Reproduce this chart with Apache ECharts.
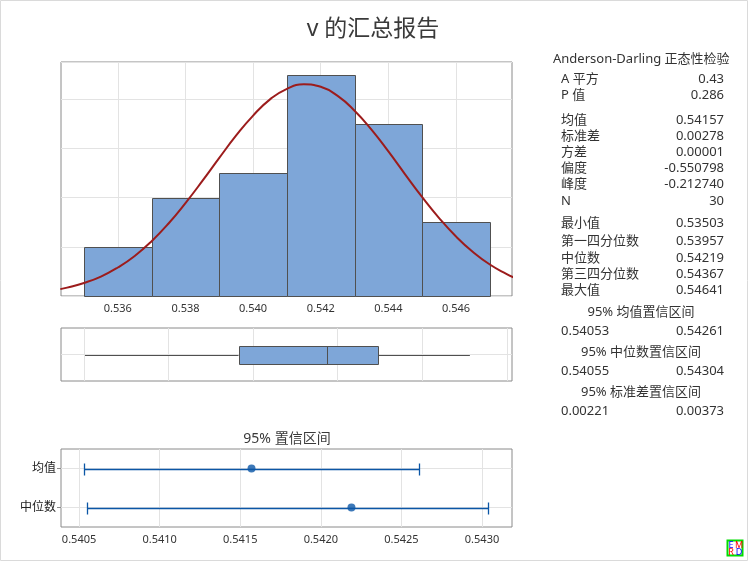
<!DOCTYPE html>
<html>
<head>
<meta charset="utf-8">
<script src="https://cdn.jsdelivr.net/npm/echarts@6/dist/echarts.min.js"></script>
<style>
  html, body { margin: 0; padding: 0; background: #fff; }
  #chart { width: 748px; height: 561px; }
</style>
</head>
<body>
<div id="chart"></div>
<script>
// histogram bins (start of each bin, width 0.002) and counts
const binStarts = [0.535, 0.537, 0.539, 0.541, 0.543, 0.545];
const binWidth = 0.002;
const binCounts = [2, 4, 5, 9, 7, 3];

// fitted normal curve
const curveX = [0.5343, 0.5345, 0.5350, 0.5355, 0.5360, 0.5365, 0.5370, 0.5375, 0.5380, 0.5385,
  0.5390, 0.5395, 0.5400, 0.5405, 0.5410, 0.5415, 0.5420, 0.5425, 0.5430, 0.5435,
  0.5440, 0.5445, 0.5450, 0.5455, 0.5460, 0.5465, 0.5470, 0.5475, 0.5477];
const curveY = [0.28, 0.34, 0.53, 0.79, 1.16, 1.63, 2.23, 2.95, 3.78, 4.68,
  5.62, 6.53, 7.34, 8.00, 8.43, 8.61, 8.51, 8.14, 7.54, 6.77,
  5.88, 4.94, 4.02, 3.17, 2.42, 1.79, 1.28, 0.89, 0.76];

// box plot: min, Q1, median, Q3, max
const boxStats = [0.53503, 0.53957, 0.54219, 0.54367, 0.54641];

// 95% confidence intervals
const ciNames = ['均值', '中位数'];
const ciCenters = [0.54157, 0.54219];
const ciLow = [0.54053, 0.54055];
const ciHigh = [0.54261, 0.54304];

// tick labels
const histTicks = [0.536, 0.538, 0.540, 0.542, 0.544, 0.546];
const boxTicks = [0.535, 0.5375, 0.540, 0.5425, 0.545, 0.5475];
const ciTicks = [0.5405, 0.5410, 0.5415, 0.5420, 0.5425, 0.5430];

// summary table
const adTitle = 'Anderson-Darling 正态性检验';
const statLabels = ['A 平方', 'P 值', '均值', '标准差', '方差', '偏度', '峰度', 'N',
  '最小值', '第一四分位数', '中位数', '第三四分位数', '最大值'];
const statValues = ['0.43', '0.286', '0.54157', '0.00278', '0.00001', '-0.550798', '-0.212740', '30',
  '0.53503', '0.53957', '0.54219', '0.54367', '0.54641'];
const statRowY = [79, 95, 120, 136, 152, 168, 184, 201, 223, 241, 258, 274, 290];
const ciTableTitles = ['95% 均值置信区间', '95% 中位数置信区间', '95% 标准差置信区间'];
const ciTableValues = [['0.54053', '0.54261'], ['0.54055', '0.54304'], ['0.00221', '0.00373']];

const FONT = "'Noto Sans', 'Noto Sans CJK SC', sans-serif";
const TEXT = '#333333';
const FRAME = '#8a8a8a';
const GRIDLINE = '#e3e3e3';
const X_MIN = 0.53432, X_MAX = 0.547655;

const chart = echarts.init(document.getElementById('chart'));

function txt(text, x, y, size, align, color) {
  return {
    type: 'text', x: x, y: y, silent: true,
    style: {
      text: text, fontSize: size, fontFamily: FONT, fill: color || TEXT,
      align: align || 'left', textAlign: align || 'left',
      verticalAlign: 'middle', textVerticalAlign: 'middle'
    }
  };
}

const graphics = [
  { type: 'rect', shape: { x: 0.5, y: 0.5, width: 747, height: 560 }, style: { fill: 'none', stroke: '#dadada', lineWidth: 1 }, silent: true },
  txt('v 的汇总报告', 373, 29, 23, 'center', '#3a3a3a'),
  txt('95% 置信区间', 287, 439, 14, 'center', '#3a3a3a'),
  txt(adTitle, 553, 59, 13, 'left')
];
statLabels.forEach((l, i) => {
  graphics.push(txt(l, 561, statRowY[i], 13, 'left'));
  graphics.push(txt(statValues[i], 724, statRowY[i], 13, 'right'));
});
const ciTitleY = [312, 352, 392];
ciTableTitles.forEach((t, i) => {
  graphics.push(txt(t, 641, ciTitleY[i], 13, 'center'));
  graphics.push(txt(ciTableValues[i][0], 561, ciTitleY[i] + 19, 13, 'left'));
  graphics.push(txt(ciTableValues[i][1], 724, ciTitleY[i] + 19, 13, 'right'));
});
// small logo in bottom right corner
graphics.push({ type: 'rect', shape: { x: 727.5, y: 540.5, width: 15, height: 15 }, style: { fill: '#fff', stroke: '#00dd00', lineWidth: 2 }, silent: true });
graphics.push(txt('E', 731, 545, 9, 'center', '#0000ff'));
graphics.push(txt('M', 739, 545, 9, 'center', '#ff0000'));
graphics.push(txt('R', 731, 552, 9, 'center', '#ff0000'));
graphics.push(txt('D', 739, 552, 9, 'center', '#0000ff'));

const gridBase = { show: true, borderColor: FRAME, borderWidth: 1, backgroundColor: '#fff', containLabel: false };

const option = {
  animation: false,
  textStyle: { fontFamily: FONT },
  grid: [
    Object.assign({ left: 61, top: 62, width: 451, height: 234 }, gridBase),
    Object.assign({ left: 61, top: 328, width: 451, height: 53 }, gridBase),
    Object.assign({ left: 61, top: 449, width: 451, height: 78 }, gridBase)
  ],
  xAxis: [
    {
      gridIndex: 0, type: 'value', min: X_MIN, max: X_MAX,
      axisLine: { show: false },
      axisTick: { show: false, customValues: histTicks },
      axisLabel: { customValues: histTicks, color: TEXT, fontSize: 11, margin: 7, formatter: v => v.toFixed(3) },
      splitLine: { show: true, lineStyle: { color: GRIDLINE, width: 1 } }
    },
    {
      gridIndex: 1, type: 'value', min: X_MIN, max: X_MAX,
      axisLine: { show: false },
      axisTick: { show: false, customValues: boxTicks },
      axisLabel: { show: false },
      splitLine: { show: true, lineStyle: { color: GRIDLINE, width: 1 } }
    },
    {
      gridIndex: 2, type: 'value', min: 0.540388, max: 0.543186,
      axisLine: { show: false },
      axisTick: { show: false, customValues: ciTicks },
      axisLabel: { customValues: ciTicks, color: TEXT, fontSize: 11, margin: 7, formatter: v => v.toFixed(4) },
      splitLine: { show: true, lineStyle: { color: GRIDLINE, width: 1 } }
    }
  ],
  yAxis: [
    {
      gridIndex: 0, type: 'value', min: 0, max: 9.52, interval: 2,
      axisLine: { show: false }, axisTick: { show: false }, axisLabel: { show: false },
      splitLine: { show: true, lineStyle: { color: GRIDLINE, width: 1 } }
    },
    {
      gridIndex: 1, type: 'value', min: 0, max: 2,
      axisLine: { show: false },
      axisTick: { show: false, customValues: [1] },
      axisLabel: { show: false },
      splitLine: { show: true, lineStyle: { color: GRIDLINE, width: 1 } }
    },
    {
      gridIndex: 2, type: 'value', min: 0, max: 2,
      axisLine: { show: false },
      axisTick: { show: true, length: 4, customValues: [0.5, 1.5], lineStyle: { color: FRAME } },
      axisLabel: {
        customValues: [0.5, 1.5], color: '#222', fontSize: 12, margin: 5,
        formatter: v => (v > 1 ? ciNames[0] : ciNames[1])
      },
      splitLine: { show: true, lineStyle: { color: GRIDLINE, width: 1 } }
    }
  ],
  graphic: graphics,
  series: [
    {
      type: 'custom', xAxisIndex: 0, yAxisIndex: 0,
      encode: { x: [0, 1], y: 2 },
      data: binStarts.map((s, i) => [s, s + binWidth, binCounts[i]]),
      renderItem: (params, api) => {
        const p0 = api.coord([api.value(0), api.value(2)]);
        const p1 = api.coord([api.value(1), 0]);
        return {
          type: 'rect',
          shape: { x: Math.round(p0[0]) + 0.5, y: Math.round(p0[1]) + 0.5, width: Math.round(p1[0]) - Math.round(p0[0]), height: Math.round(p1[1]) - Math.round(p0[1]) },
          style: { fill: '#7ea6d8', stroke: '#505050', lineWidth: 1 }
        };
      }
    },
    {
      type: 'line', xAxisIndex: 0, yAxisIndex: 0,
      data: curveX.map((x, i) => [x, curveY[i]]),
      smooth: true, showSymbol: false, symbol: 'none',
      lineStyle: { color: '#9c1c1c', width: 2 },
      clip: true, z: 5
    },
    {
      type: 'custom', xAxisIndex: 1, yAxisIndex: 1,
      encode: { x: [0, 1, 2, 3, 4], y: 5 },
      data: [boxStats.concat([1])],
      renderItem: (params, api) => {
        const y = api.value(5);
        const c = [0, 1, 2, 3, 4].map(k => api.coord([api.value(k), y]));
        const cy = Math.round(c[0][1]) + 0.5;
        const h = 9;
        const line = (x1, x2, y1, y2) => ({
          type: 'line', shape: { x1: x1, y1: y1, x2: x2, y2: y2 },
          style: { stroke: '#505050', lineWidth: 1 }
        });
        return {
          type: 'group',
          children: [
            line(c[0][0], c[1][0], cy, cy),
            line(c[3][0], c[4][0], cy, cy),
            {
              type: 'rect',
              shape: { x: Math.round(c[1][0]) + 0.5, y: cy - h, width: Math.round(c[3][0] - c[1][0]), height: 2 * h },
              style: { fill: '#7ea6d8', stroke: '#505050', lineWidth: 1 }
            },
            line(Math.round(c[2][0]) + 0.5, Math.round(c[2][0]) + 0.5, cy - h, cy + h)
          ]
        };
      }
    },
    {
      type: 'custom', xAxisIndex: 2, yAxisIndex: 2,
      encode: { x: [0, 1], y: 2 },
      data: ciNames.map((n, i) => [ciLow[i], ciHigh[i], i === 0 ? 1.5 : 0.5]),
      renderItem: (params, api) => {
        const a = api.coord([api.value(0), api.value(2)]);
        const b = api.coord([api.value(1), api.value(2)]);
        const cy = Math.round(a[1]) + 0.5;
        const xa = Math.round(a[0]) + 0.5, xb = Math.round(b[0]) + 0.5;
        const st = { stroke: '#0b56a6', lineWidth: 1.3 };
        return {
          type: 'group',
          children: [
            { type: 'line', shape: { x1: xa, y1: cy, x2: xb, y2: cy }, style: st },
            { type: 'line', shape: { x1: xa, y1: cy - 6, x2: xa, y2: cy + 6 }, style: st },
            { type: 'line', shape: { x1: xb, y1: cy - 6, x2: xb, y2: cy + 6 }, style: st }
          ]
        };
      }
    },
    {
      type: 'scatter', xAxisIndex: 2, yAxisIndex: 2,
      data: ciCenters.map((v, i) => [v, i === 0 ? 1.5 : 0.5]),
      symbol: 'circle', symbolSize: 8,
      itemStyle: { color: '#0b56a6' }, z: 5
    }
  ]
};

chart.setOption(option);
</script>
</body>
</html>
